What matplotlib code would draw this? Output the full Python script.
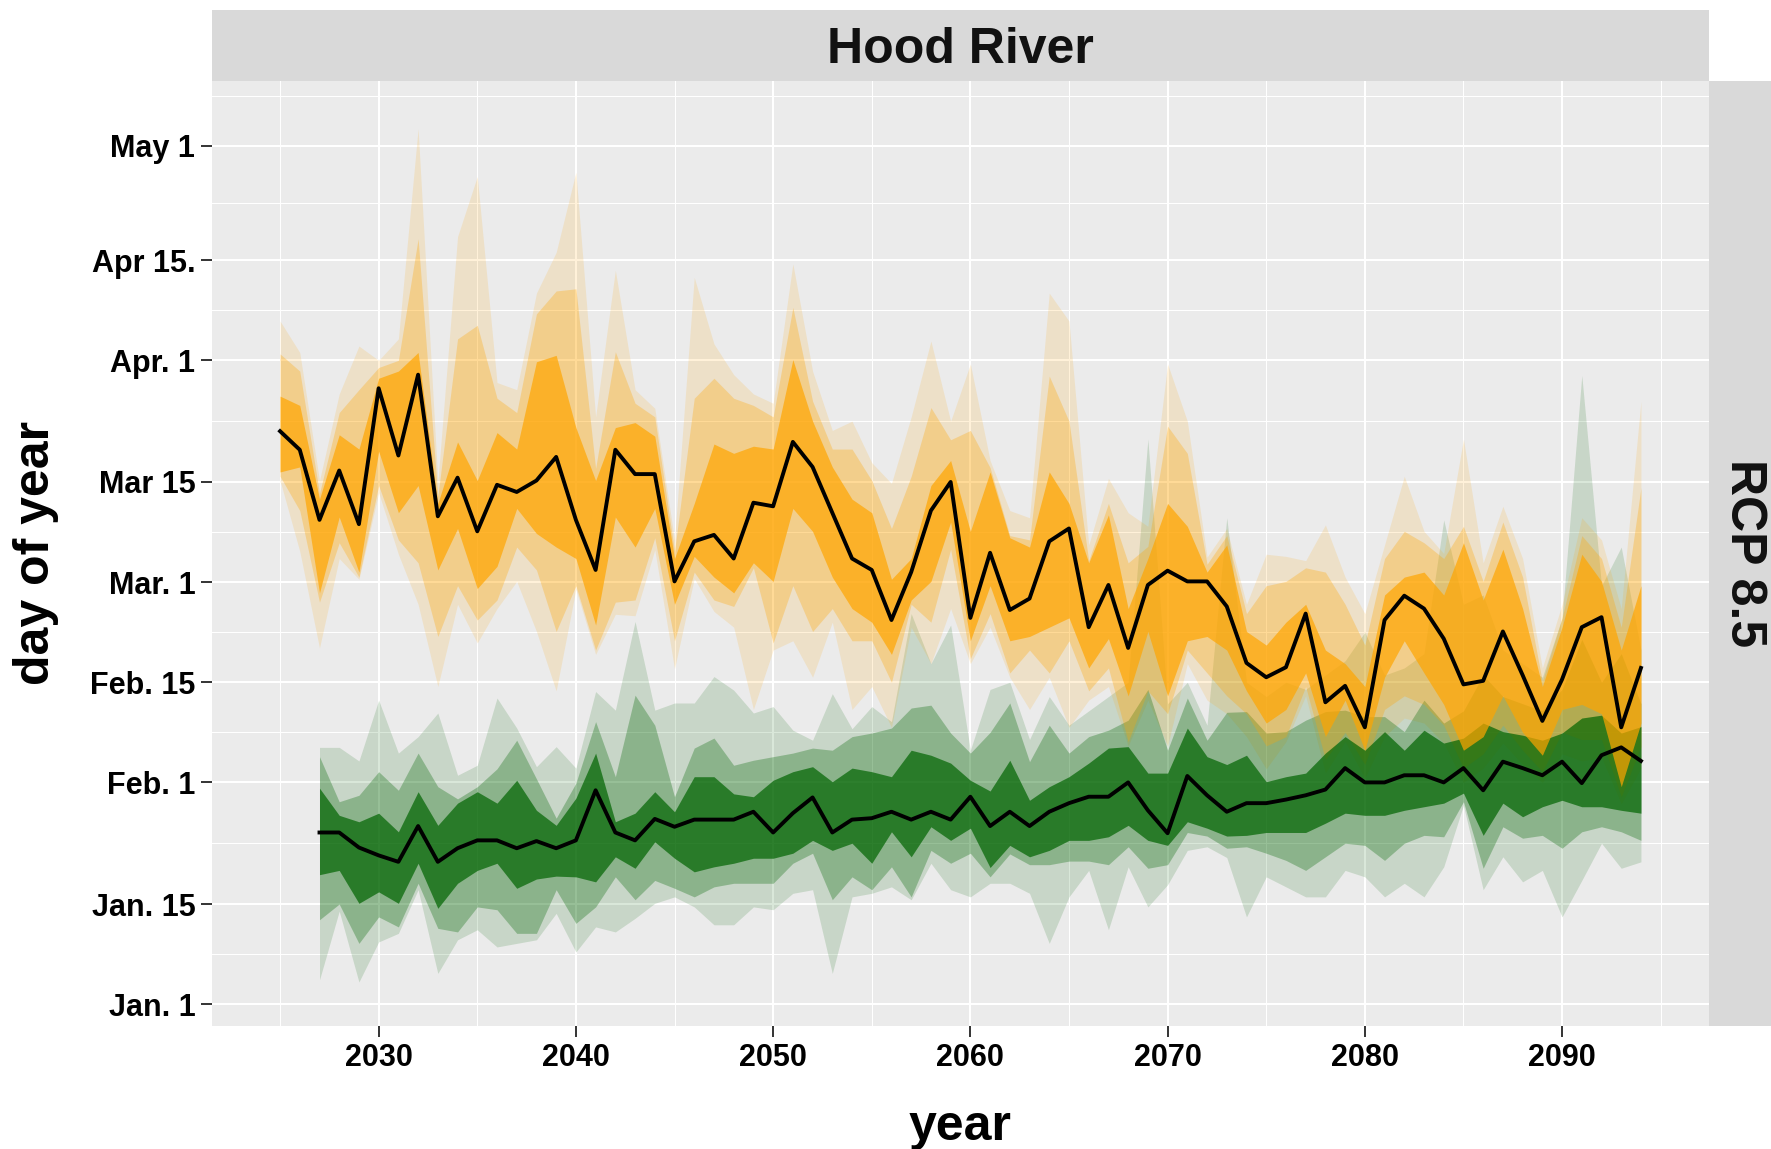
import numpy as np
import matplotlib.pyplot as plt

plt.rcParams['font.family'] = ['Liberation Sans', 'DejaVu Sans']

# ---- data: day of year, orange series 2025-2094, green series 2027-2094 ----
years_o = np.arange(2025, 2095)
years_g = np.arange(2027, 2095)

med_o = [81.1, 78.5, 68.7, 75.6, 68.1, 87.1, 77.7, 89.0, 69.2, 74.6,
         67.1, 73.6, 72.6, 74.2, 77.5, 68.7, 61.7, 78.5, 75.1, 75.1,
         60.1, 65.7, 66.6, 63.3, 71.1, 70.6, 79.6, 76.1, 69.7, 63.3,
         61.7, 54.7, 61.4, 70.0, 74.0, 55.0, 64.1, 56.1, 57.7, 65.7,
         67.5, 53.7, 59.6, 50.8, 59.6, 61.6, 60.1, 60.1, 56.6, 48.7,
         46.7, 48.1, 55.6, 43.2, 45.5, 39.7, 54.7, 58.1, 56.3, 52.1,
         45.7, 46.2, 53.1, 47.0, 40.6, 46.4, 53.7, 55.1, 39.7, 48.0]
o_inner_hi = [86.0, 84.7, 71.6, 80.6, 78.6, 88.5, 89.5, 92.1, 71.0, 79.6,
              74.2, 80.9, 78.6, 90.8, 91.7, 81.6, 74.2, 81.6, 82.3, 80.4,
              63.3, 71.0, 79.3, 78.0, 79.0, 78.6, 91.1, 82.5, 76.1, 71.6,
              69.7, 60.4, 63.3, 73.5, 77.0, 67.1, 75.4, 66.2, 64.9, 75.4,
              71.0, 62.7, 69.4, 56.3, 63.3, 71.0, 67.8, 61.4, 65.2, 53.1,
              51.2, 54.4, 56.9, 50.5, 48.6, 45.4, 58.2, 60.7, 61.4, 58.2,
              65.5, 57.5, 64.6, 56.3, 45.4, 53.7, 63.9, 60.1, 50.5, 59.5]
o_inner_lo = [75.4, 76.1, 58.5, 69.1, 61.4, 78.3, 69.7, 73.5, 61.7, 67.5,
              59.1, 62.2, 70.3, 66.8, 64.9, 63.3, 54.0, 69.1, 64.9, 70.3,
              56.9, 63.6, 60.7, 58.5, 62.7, 60.1, 70.3, 67.1, 60.7, 56.3,
              54.4, 49.9, 57.5, 60.1, 68.4, 51.8, 59.5, 51.8, 52.4, 53.7,
              55.0, 48.0, 52.1, 44.1, 53.1, 44.1, 51.8, 52.4, 50.5, 44.8,
              40.3, 42.2, 47.3, 38.4, 43.5, 36.5, 46.7, 51.8, 47.3, 42.9,
              36.5, 38.4, 44.1, 39.0, 35.8, 42.2, 42.9, 41.6, 31.4, 40.3]
o_mid_hi = [91.9, 89.5, 72.4, 83.7, 86.9, 90.0, 91.0, 108.0, 72.0, 94.0,
            95.9, 85.7, 83.7, 97.5, 100.7, 101.0, 75.9, 92.2, 85.0, 83.1,
            64.3, 85.7, 88.5, 85.7, 84.7, 83.1, 98.4, 85.3, 78.6, 78.6,
            74.2, 67.5, 74.8, 84.4, 79.9, 81.2, 76.0, 66.5, 65.9, 88.8,
            82.5, 63.0, 71.0, 62.7, 65.0, 81.8, 78.0, 62.5, 66.5, 55.6,
            59.5, 60.1, 62.0, 61.4, 56.9, 51.2, 63.3, 67.1, 65.5, 63.3,
            67.8, 60.1, 68.4, 60.7, 46.1, 55.0, 66.5, 63.3, 53.7, 73.2]
o_mid_lo = [74.8, 70.0, 57.2, 65.5, 60.7, 73.5, 65.9, 62.7, 52.4, 59.5,
            54.7, 57.5, 64.9, 61.7, 53.1, 59.5, 50.5, 57.2, 57.5, 66.2,
            51.8, 61.4, 57.5, 56.6, 62.0, 51.5, 59.5, 53.1, 56.3, 51.8,
            51.8, 46.0, 56.9, 54.4, 64.6, 49.3, 55.6, 47.3, 50.5, 47.3,
            51.8, 44.8, 48.0, 37.7, 44.8, 41.6, 50.5, 47.3, 44.1, 41.6,
            37.1, 38.4, 45.4, 35.2, 39.0, 34.5, 42.2, 44.1, 42.9, 40.0,
            34.0, 36.0, 40.0, 36.5, 33.5, 39.0, 38.0, 38.0, 30.0, 37.0]
o_outer_hi = [96.5, 92.1, 74.2, 86.3, 93.0, 91.0, 94.0, 123.4, 74.0, 108.3,
              116.7, 87.9, 86.9, 100.4, 106.1, 117.3, 83.1, 103.6, 86.9, 84.3,
              65.9, 102.6, 93.3, 89.0, 86.3, 85.0, 104.5, 89.5, 81.2, 82.5,
              76.7, 73.8, 83.1, 93.7, 82.5, 90.5, 77.0, 70.0, 69.0, 100.4,
              96.5, 65.2, 74.5, 69.7, 67.8, 90.5, 82.5, 63.5, 67.5, 56.9,
              63.9, 63.6, 63.0, 68.0, 60.7, 55.6, 65.2, 74.8, 67.1, 64.0,
              80.0, 62.7, 70.6, 63.3, 48.0, 56.9, 69.0, 65.9, 56.3, 85.3]
o_outer_lo = [74.2, 64.3, 50.8, 63.3, 60.4, 72.5, 63.9, 56.9, 45.4, 56.9,
              51.5, 56.3, 60.1, 53.1, 44.8, 59.0, 49.9, 55.5, 55.3, 64.5,
              47.9, 60.5, 55.9, 53.7, 42.2, 50.5, 51.8, 46.7, 54.4, 42.2,
              45.4, 39.7, 53.7, 48.6, 56.3, 48.6, 53.7, 46.7, 42.2, 46.7,
              39.7, 43.5, 45.4, 37.1, 43.5, 37.1, 48.6, 43.5, 41.6, 38.4,
              33.9, 37.7, 44.1, 33.3, 37.7, 32.6, 38.4, 41.0, 40.3, 37.5,
              32.0, 34.0, 37.5, 34.5, 32.0, 36.0, 35.0, 35.5, 29.0, 34.0]

med_g = [25.0, 25.0, 22.9, 21.8, 20.9, 25.9, 20.9, 22.8,
         23.9, 23.9, 22.8, 23.8, 22.8, 23.9, 30.9, 25.0, 23.9, 26.9,
         25.8, 26.8, 26.8, 26.8, 27.9, 25.0, 27.7, 29.9, 25.0, 26.8,
         27.0, 27.9, 26.8, 27.9, 26.8, 30.0, 25.9, 27.9, 25.9, 27.9,
         29.1, 30.0, 30.0, 32.0, 28.1, 24.9, 32.9, 30.2, 27.9, 29.1,
         29.1, 29.6, 30.2, 31.0, 34.0, 32.0, 32.0, 33.0, 33.0, 32.0,
         34.0, 30.9, 34.9, 34.0, 33.0, 34.9, 31.9, 35.8, 36.9, 35.0]
g_inner_hi = [31.2, 27.4, 26.5, 27.7, 25.1, 30.7, 26.0, 29.1,
              30.7, 29.1, 32.3, 28.1, 26.0, 29.8, 36.1, 26.5, 27.7, 30.7,
              27.9, 32.8, 32.8, 30.4, 30.0, 32.3, 33.5, 34.2, 32.1, 34.0,
              33.5, 32.8, 36.5, 35.8, 34.7, 32.3, 30.8, 35.1, 29.5, 31.4,
              32.8, 34.7, 36.8, 37.0, 33.3, 33.3, 39.6, 35.6, 34.5, 35.8,
              32.1, 32.8, 33.3, 36.1, 38.4, 36.5, 39.1, 36.5, 39.3, 37.5,
              38.2, 40.3, 39.1, 38.6, 37.9, 38.9, 41.0, 41.4, 38.9, 39.8]
g_inner_lo = [19.1, 19.7, 15.1, 16.7, 15.1, 20.7, 14.4, 17.9,
              19.7, 20.7, 17.2, 18.5, 18.9, 18.8, 18.1, 21.6, 20.0, 23.7,
              21.4, 19.5, 20.2, 20.7, 21.4, 21.4, 22.1, 23.9, 22.5, 23.5,
              20.7, 25.1, 21.6, 25.8, 23.9, 25.6, 20.1, 23.2, 21.6, 22.5,
              23.9, 23.9, 24.4, 26.0, 23.9, 23.2, 26.5, 25.6, 24.5, 24.6,
              25.0, 25.0, 25.0, 26.3, 27.7, 27.4, 27.4, 28.1, 28.6, 29.1,
              30.5, 24.6, 29.1, 27.2, 28.6, 29.5, 28.6, 28.6, 28.1, 27.7]
g_mid_hi = [35.6, 29.3, 30.2, 33.5, 30.9, 36.1, 31.4, 29.7,
            31.4, 33.9, 37.9, 32.5, 27.0, 31.9, 40.5, 32.8, 44.2, 40.0,
            30.0, 36.8, 38.2, 34.4, 35.1, 35.6, 36.1, 36.8, 36.5, 38.4,
            38.9, 39.6, 42.4, 42.8, 38.9, 36.1, 39.0, 43.1, 34.9, 40.0,
            36.1, 38.4, 39.3, 40.7, 45.0, 36.5, 43.8, 37.9, 41.8, 41.9,
            38.9, 39.1, 40.7, 41.9, 42.1, 41.2, 41.2, 39.1, 43.5, 40.3,
            42.0, 47.0, 44.0, 43.0, 42.0, 45.0, 52.0, 46.0, 50.0, 43.0]
g_mid_lo = [12.8, 15.0, 9.5, 13.2, 11.8, 17.9, 11.6, 11.1,
            14.6, 14.2, 10.9, 10.9, 17.0, 12.3, 14.6, 18.8, 15.6, 18.3,
            17.2, 16.0, 17.4, 17.9, 17.9, 17.9, 20.7, 22.1, 15.6, 18.8,
            17.0, 20.2, 16.0, 22.5, 20.7, 22.1, 18.8, 22.0, 20.5, 20.5,
            21.0, 21.0, 20.5, 23.0, 20.0, 20.5, 25.0, 24.5, 22.8, 23.0,
            22.1, 21.1, 19.7, 21.6, 23.5, 23.2, 21.1, 23.5, 24.6, 24.4,
            29.3, 20.0, 25.8, 24.2, 24.6, 22.8, 25.1, 25.8, 25.1, 23.9]
g_outer_hi = [36.9, 36.9, 35.0, 43.5, 36.1, 38.4, 41.7, 33.0,
              34.4, 43.8, 39.6, 34.2, 37.0, 34.0, 44.7, 42.1, 54.5, 42.1,
              43.1, 43.1, 46.8, 44.9, 41.7, 42.6, 39.3, 37.9, 44.4, 39.5,
              42.6, 40.5, 55.6, 48.6, 54.0, 36.5, 45.0, 46.0, 38.0, 44.0,
              40.0, 42.0, 44.0, 46.0, 80.0, 43.0, 46.0, 40.0, 69.0, 46.0,
              44.0, 46.0, 45.0, 47.0, 49.0, 53.0, 47.0, 48.0, 50.0, 68.7,
              56.9, 58.2, 50.5, 48.6, 46.7, 55.0, 88.9, 59.5, 64.9, 50.5]
g_outer_lo = [4.4, 14.0, 4.1, 9.7, 10.9, 17.0, 5.3, 10.0,
              11.4, 9.0, 9.5, 10.0, 13.7, 8.3, 11.8, 11.1, 13.0, 15.1,
              16.0, 14.6, 12.1, 12.1, 14.6, 14.2, 16.5, 17.0, 5.3, 16.0,
              16.5, 17.4, 15.6, 20.7, 17.0, 16.0, 17.9, 17.9, 16.5, 9.5,
              16.0, 19.7, 11.4, 20.2, 14.6, 17.7, 22.5, 23.0, 21.5, 13.2,
              18.8, 17.4, 16.0, 16.0, 19.7, 18.8, 16.0, 17.9, 16.0, 20.2,
              28.8, 17.0, 21.6, 18.1, 19.7, 13.2, 18.3, 23.5, 20.0, 20.9]

day_ticks = [1, 15, 32, 46, 60, 74, 91, 105, 121]
day_labels = ['Jan. 1', 'Jan. 15', 'Feb. 1', 'Feb. 15', 'Mar. 1',
              'Mar 15', 'Apr. 1', 'Apr 15.', 'May 1']
year_ticks = [2030, 2040, 2050, 2060, 2070, 2080, 2090]

# ---- figure layout (pixel based) ----
W, H = 1771, 1149
fig = plt.figure(figsize=(W / 100, H / 100), dpi=100)
fig.patch.set_facecolor('white')

px_l, px_r, px_t, px_b = 212, 1709, 81, 1026
ax = fig.add_axes([px_l / W, (H - px_b) / H, (px_r - px_l) / W, (px_b - px_t) / H])
ax.set_facecolor('#EBEBEB')

# facet strips
strip_top = fig.add_axes([px_l / W, (H - px_t) / H, (px_r - px_l) / W, (px_t - 10) / H])
strip_right = fig.add_axes([px_r / W, (H - px_b) / H, (W - px_r) / W, (px_b - px_t) / H])
for s in (strip_top, strip_right):
    s.set_facecolor('#D9D9D9')
    s.set_xticks([])
    s.set_yticks([])
    for sp in s.spines.values():
        sp.set_visible(False)
strip_top.text(0.5, 0.44, 'Hood River', ha='center', va='center',
               fontsize=36, fontweight='bold', color='#111111')
strip_right.text(0.56, 0.5, 'RCP 8.5', ha='center', va='center', rotation=-90,
                 fontsize=36, fontweight='bold', color='#111111')

# ribbons: outer, middle, inner (green then orange within each level)
levels = [
    (g_outer_lo, g_outer_hi, o_outer_lo, o_outer_hi, 0.15),
    (g_mid_lo, g_mid_hi, o_mid_lo, o_mid_hi, 0.3),
    (g_inner_lo, g_inner_hi, o_inner_lo, o_inner_hi, 0.7),
]
for glo, ghi, olo, ohi, a in levels:
    ax.fill_between(years_g, glo, ghi, color='#006400', alpha=a, linewidth=0)
    ax.fill_between(years_o, olo, ohi, color='#FFA500', alpha=a, linewidth=0)

ax.plot(years_g, med_g, color='black', linewidth=2.8, solid_joinstyle='round')
ax.plot(years_o, med_o, color='black', linewidth=2.8, solid_joinstyle='round')

# axes
ax.set_xlim(2021.55, 2097.45)
ax.set_ylim(-2.05, 130.05)
ax.set_xticks(year_ticks)
ax.set_xticks([2025, 2035, 2045, 2055, 2065, 2075, 2085, 2095], minor=True)
ax.set_yticks(day_ticks)
ax.set_yticklabels(day_labels)
y_minor = [(a + b) / 2 for a, b in zip(day_ticks[:-1], day_ticks[1:])] + [128]
ax.set_yticks(y_minor, minor=True)

ax.grid(which='major', color='white', linewidth=1.5)
ax.grid(which='minor', color='white', linewidth=0.75)
ax.set_axisbelow(True)
for sp in ax.spines.values():
    sp.set_visible(False)

ax.tick_params(which='major', length=8, width=1.4, color='#333333', pad=4,
               labelsize=22, labelcolor='black')
ax.tick_params(which='minor', length=0)
for lab in ax.get_xticklabels() + ax.get_yticklabels():
    lab.set_fontweight('bold')

fig.text(960 / W, 1 - 1127 / H, 'year', ha='center', va='center',
         fontsize=36, fontweight='bold')
fig.text(36 / W, 1 - 553 / H, 'day of year', ha='center', va='center',
         rotation=90, fontsize=36, fontweight='bold')

fig.savefig('out.png', dpi=100)
